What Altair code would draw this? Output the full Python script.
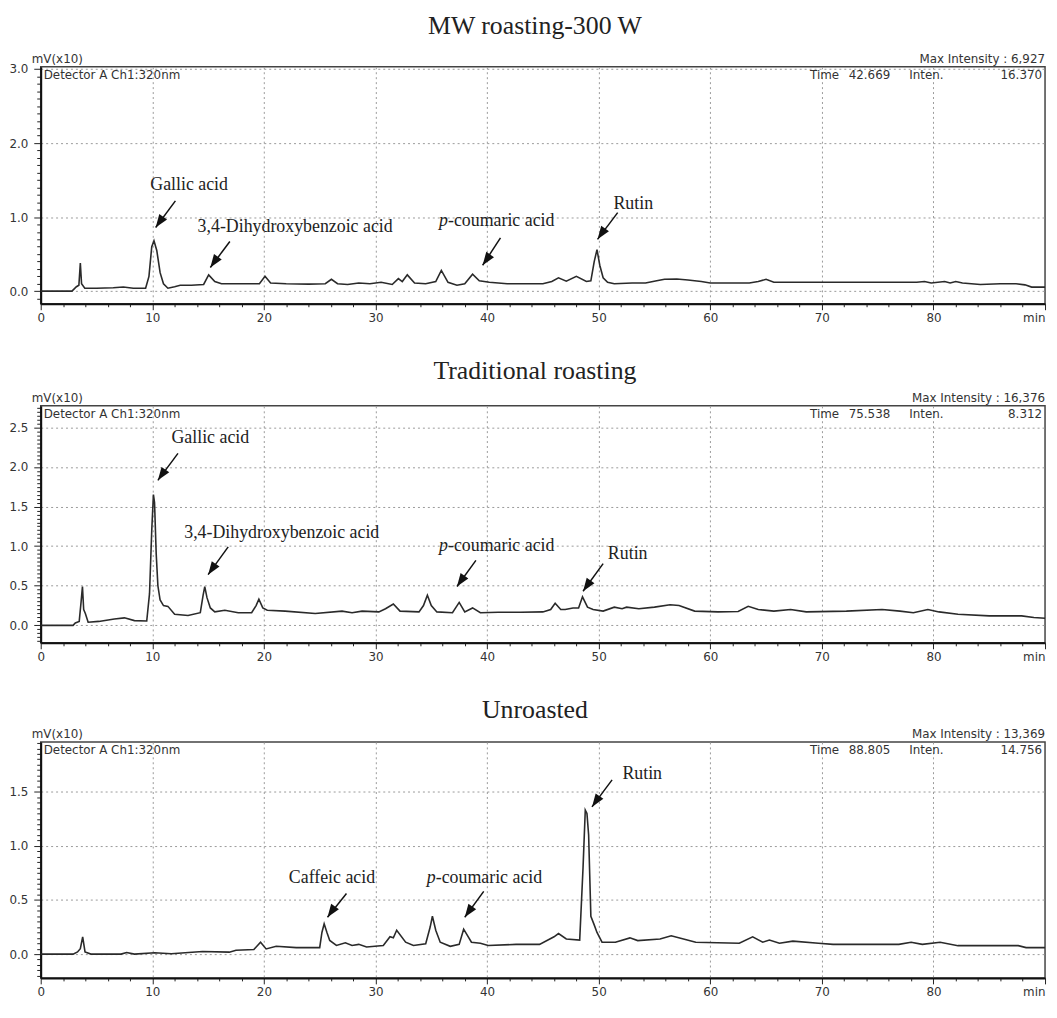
import altair as alt
import pandas as pd

# ---------------- data ----------------
titles = ["MW roasting-300 W", "Traditional roasting", "Unroasted"]
max_intensity = ["6,927", "16,376", "13,369"]
cursor_time = ["42.669", "75.538", "88.805"]
cursor_inten = ["16.370", "8.312", "14.756"]

# (retention time [min], signal [mV x10])
mw_trace = [
    (0.0, 0.0), (2.8, 0.0), (3.2, 0.06), (3.42, 0.08), (3.55, 0.38), (3.66, 0.1), (3.95, 0.04),
    (5.0, 0.04), (6.5, 0.045), (7.4, 0.055), (8.3, 0.04), (9.4, 0.04), (9.7, 0.2), (9.95, 0.6),
    (10.15, 0.68), (10.4, 0.55), (10.7, 0.25), (11.0, 0.1), (11.4, 0.04), (12.0, 0.06), (12.5, 0.08),
    (13.5, 0.08), (14.6, 0.09), (15.05, 0.22), (15.6, 0.13), (16.2, 0.1), (17.5, 0.1), (19.6, 0.1),
    (20.1, 0.2), (20.6, 0.11), (22.0, 0.1), (24.0, 0.095), (25.5, 0.1), (26.05, 0.16), (26.6, 0.1),
    (27.5, 0.09), (28.5, 0.11), (29.5, 0.1), (30.5, 0.12), (31.5, 0.09), (32.05, 0.17), (32.4, 0.13),
    (32.85, 0.22), (33.5, 0.11), (34.5, 0.1), (35.4, 0.13), (35.9, 0.28), (36.5, 0.12), (37.3, 0.08),
    (38.0, 0.1), (38.7, 0.23), (39.3, 0.14), (40.2, 0.12), (41.8, 0.1), (43.5, 0.1), (45.0, 0.1),
    (45.8, 0.13), (46.4, 0.18), (47.1, 0.135), (48.0, 0.2), (48.9, 0.13), (49.3, 0.14), (49.6, 0.4),
    (49.85, 0.56), (50.1, 0.35), (50.4, 0.18), (50.8, 0.12), (51.4, 0.1), (53.0, 0.11), (54.2, 0.11),
    (55.2, 0.14), (55.9, 0.16), (57.0, 0.165), (58.0, 0.15), (59.2, 0.13), (60.0, 0.11), (62.0, 0.11),
    (63.5, 0.11), (64.3, 0.13), (65.0, 0.16), (65.7, 0.12), (68.0, 0.12), (72.0, 0.12), (76.0, 0.12),
    (78.5, 0.12), (79.2, 0.13), (79.8, 0.11), (81.0, 0.13), (81.5, 0.11), (82.0, 0.13), (82.6, 0.11),
    (84.2, 0.09), (86.0, 0.1), (87.4, 0.1), (88.2, 0.085), (88.8, 0.055), (90.0, 0.055),
]

trad_trace = [
    (0.0, 0.0), (2.9, 0.0), (3.1, 0.03), (3.45, 0.05), (3.62, 0.3), (3.74, 0.49), (3.85, 0.2),
    (4.0, 0.15), (4.25, 0.04), (5.2, 0.05), (6.6, 0.08), (7.5, 0.095), (8.4, 0.06), (9.5, 0.055),
    (9.75, 0.4), (9.95, 1.2), (10.1, 1.65), (10.2, 1.55), (10.35, 0.9), (10.5, 0.5), (10.7, 0.32),
    (11.0, 0.25), (11.4, 0.24), (12.0, 0.14), (13.2, 0.125), (14.3, 0.16), (14.55, 0.38), (14.7, 0.49),
    (14.9, 0.35), (15.2, 0.22), (15.6, 0.17), (16.5, 0.19), (17.7, 0.16), (18.9, 0.16), (19.3, 0.25),
    (19.55, 0.33), (19.9, 0.22), (20.3, 0.19), (21.9, 0.18), (24.6, 0.15), (27.0, 0.18), (27.9, 0.16),
    (28.8, 0.18), (30.3, 0.17), (30.9, 0.21), (31.6, 0.27), (32.2, 0.18), (33.9, 0.17), (34.3, 0.25),
    (34.65, 0.38), (35.0, 0.25), (35.5, 0.17), (36.9, 0.16), (37.5, 0.29), (38.0, 0.17), (38.7, 0.22),
    (39.4, 0.16), (41.0, 0.165), (43.0, 0.165), (45.0, 0.17), (45.7, 0.2), (46.1, 0.28), (46.6, 0.2),
    (47.0, 0.2), (47.7, 0.22), (48.2, 0.22), (48.55, 0.36), (49.0, 0.23), (49.5, 0.2), (50.4, 0.18),
    (51.4, 0.23), (52.1, 0.21), (52.5, 0.23), (53.6, 0.21), (55.0, 0.23), (56.4, 0.26), (57.2, 0.25),
    (58.6, 0.18), (60.7, 0.17), (62.5, 0.175), (63.4, 0.24), (64.3, 0.2), (65.7, 0.18), (67.2, 0.2),
    (68.6, 0.17), (72.2, 0.18), (75.4, 0.2), (77.0, 0.18), (78.2, 0.16), (79.5, 0.2), (80.5, 0.17),
    (82.2, 0.14), (85.0, 0.12), (87.9, 0.12), (89.0, 0.1), (90.0, 0.09),
]

unroasted_trace = [
    (0.0, 0.0), (2.9, 0.0), (3.3, 0.02), (3.55, 0.05), (3.76, 0.16), (3.97, 0.02), (4.5, 0.0),
    (7.2, 0.0), (7.7, 0.015), (8.4, 0.0), (10.2, 0.012), (11.7, 0.003), (14.5, 0.024), (16.9, 0.018),
    (17.5, 0.036), (19.1, 0.042), (19.7, 0.11), (20.2, 0.048), (21.1, 0.072), (22.9, 0.06), (25.0, 0.06),
    (25.2, 0.2), (25.4, 0.28), (25.65, 0.2), (25.9, 0.126), (26.5, 0.08), (27.3, 0.105), (27.9, 0.08),
    (28.5, 0.09), (29.2, 0.066), (30.7, 0.08), (31.3, 0.16), (31.6, 0.15), (31.9, 0.22), (32.7, 0.11),
    (33.4, 0.08), (34.5, 0.096), (34.9, 0.25), (35.1, 0.35), (35.4, 0.22), (35.8, 0.11), (36.7, 0.072),
    (37.5, 0.09), (37.9, 0.23), (38.6, 0.11), (39.4, 0.1), (40.1, 0.08), (42.6, 0.09), (44.7, 0.09),
    (46.0, 0.16), (46.4, 0.19), (47.1, 0.14), (48.3, 0.13), (48.6, 0.8), (48.8, 1.33), (48.95, 1.3),
    (49.1, 1.1), (49.3, 0.35), (49.6, 0.27), (49.85, 0.2), (50.3, 0.11), (51.5, 0.11), (52.8, 0.15),
    (53.5, 0.125), (55.5, 0.14), (56.5, 0.17), (57.6, 0.14), (58.7, 0.11), (62.6, 0.1), (63.8, 0.16),
    (64.7, 0.11), (65.3, 0.13), (66.2, 0.1), (67.4, 0.12), (69.7, 0.1), (71.0, 0.09), (76.9, 0.09),
    (78.0, 0.11), (79.0, 0.09), (80.6, 0.11), (82.2, 0.078), (87.6, 0.078), (88.3, 0.06), (90.0, 0.06),
]

# peak labels: (text, time, signal) ; arrows: (tail_t, tail_v, head_t, head_v)
mw_labels = [("Gallic acid", 13.3, 1.43), ("3,4-Dihydroxybenzoic acid", 22.8, 0.86), ("Rutin", 53.1, 1.18)]
mw_pcoum = (35.7, 0.95)
mw_arrows = [(12.07, 1.22, 10.3, 0.86), (16.95, 0.67, 15.2, 0.32), (41.2, 0.72, 39.6, 0.35), (51.7, 1.06, 49.9, 0.70)]

trad_labels = [("Gallic acid", 15.2, 2.36), ("3,4-Dihydroxybenzoic acid", 21.6, 1.16), ("Rutin", 52.6, 0.905)]
trad_pcoum = (35.7, 1.0)
trad_arrows = [(12.3, 2.17, 10.5, 1.83), (16.8, 0.99, 15.0, 0.64), (39.0, 0.82, 37.3, 0.49), (50.4, 0.78, 48.6, 0.43)]

unr_labels = [("Caffeic acid", 26.1, 0.70), ("Rutin", 53.9, 1.66)]
unr_pcoum = (34.6, 0.70)
unr_arrows = [(27.4, 0.56, 25.7, 0.34), (39.7, 0.58, 38.0, 0.34), (51.2, 1.61, 49.4, 1.36)]

y_domains = [[-0.17, 3.03], [-0.22, 2.77], [-0.22, 1.96]]
y_major_step = [1.0, 0.5, 0.5]
y_minor_step = [0.1, 0.05, 0.05]

x_tick_values = list(range(0, 91, 2))

# ---------------- layout / style ----------------
W = 1013
HEIGHTS = [239, 239, 238]
TITLE_OFFSETS = [14, 8, 5]
SANS = "DejaVu Sans"
SERIF = "Liberation Serif"
INK = "#2a2a2a"
ARROW_PATH = "M0,0L0.36,1L-0.36,1Z"


def header(label, x, y, align):
    return alt.Chart(pd.DataFrame({"label": [label]})).mark_text(
        font=SANS, fontSize=12, color="#333", align=align, baseline="alphabetic"
    ).encode(text="label:N", x=alt.value(x), y=alt.value(y))


def make_panel(i, trace, labels, pcoum, arrows):
    lo, hi = y_domains[i]
    step = y_minor_step[i]
    n0 = int(round(lo / step + 0.4999))
    n1 = int(hi / step + 1e-9)
    minor_vals = [round(k * step, 2) for k in range(n0, n1 + 1)]
    mj = y_major_step[i]
    is_major = f"abs(datum.value / {mj} - round(datum.value / {mj})) < 1e-6"

    yaxis = alt.Axis(
        values=minor_vals,
        labelExpr=f"{is_major} ? format(datum.value, '.1f') : ''",
        tickSize={"condition": {"test": is_major, "value": 7}, "value": 4},
        gridOpacity={"condition": {"test": is_major, "value": 1}, "value": 0},
        labelOverlap=False, labelPadding=6, title=None,
    )
    x_major = "datum.value % 10 == 0"
    xaxis = alt.Axis(
        values=x_tick_values,
        labelExpr="datum.value == 90 ? 'min' : (datum.value % 10 == 0 ? datum.label : '')",
        labelAlign={"condition": {"test": "datum.value == 90", "value": "right"}, "value": "center"},
        tickSize={"condition": {"test": x_major, "value": 6}, "value": 3},
        gridOpacity={"condition": {"test": x_major + " && datum.value > 0 && datum.value < 90", "value": 1}, "value": 0},
        labelOverlap=False, labelPadding=3, title=None,
    )
    xs = alt.Scale(domain=[0, 90], nice=False, zero=False)
    ys = alt.Scale(domain=y_domains[i], nice=False, zero=False)

    def X(f):
        return alt.X(f, scale=xs, axis=xaxis)

    def Y(f):
        return alt.Y(f, scale=ys, axis=yaxis)

    df = pd.DataFrame(trace, columns=["time", "signal"])
    line = alt.Chart(df).mark_line(color=INK, strokeWidth=1.6).encode(x=X("time:Q"), y=Y("signal:Q"))

    ldf = pd.DataFrame(labels, columns=["label", "lt", "lv"])
    text = alt.Chart(ldf).mark_text(font=SERIF, fontSize=18, color="#222", align="center", baseline="middle").encode(
        x=X("lt:Q"), y=Y("lv:Q"), text="label:N"
    )
    pdf = pd.DataFrame({"pt": [pcoum[0]], "pv": [pcoum[1]], "a": ["p"], "b": ["-coumaric acid"]})
    p_it = alt.Chart(pdf).mark_text(font=SERIF, fontSize=18, fontStyle="italic", color="#222", align="left", baseline="middle").encode(
        x=X("pt:Q"), y=Y("pv:Q"), text="a:N"
    )
    p_rest = alt.Chart(pdf).mark_text(font=SERIF, fontSize=18, color="#222", align="left", baseline="middle", dx=9).encode(
        x=X("pt:Q"), y=Y("pv:Q"), text="b:N"
    )

    adf = pd.DataFrame(arrows, columns=["t0", "v0", "t1", "v1"])
    shaft = alt.Chart(adf).mark_rule(color="#111", strokeWidth=1.5).encode(
        x=X("t0:Q"), y=Y("v0:Q"), x2="t1:Q", y2="v1:Q",
    )
    head = alt.Chart(adf).mark_point(shape=ARROW_PATH, filled=True, color="#111", opacity=1, size=700, angle=215).encode(
        x=X("t1:Q"), y=Y("v1:Q")
    )

    h = HEIGHTS[i]
    headers = [
        header("mV(x10)", -9, -4, "left"),
        header(f"Max Intensity : {max_intensity[i]}", W, -4, "right"),
        header("Detector A Ch1:320nm", 3, 12, "left"),
        header("Time", W - 237, 12, "left"),
        header(cursor_time[i], W - 198, 12, "left"),
        header("Inten.", W - 137, 12, "left"),
        header(cursor_inten[i], W - 3, 12, "right"),
    ]

    return alt.layer(line, shaft, head, text, p_it, p_rest, *headers).properties(
        width=W, height=h,
        title=alt.TitleParams(titles[i], offset=TITLE_OFFSETS[i], dx=-8),
    )


p1 = make_panel(0, mw_trace, mw_labels, mw_pcoum, mw_arrows)
p2 = make_panel(1, trad_trace, trad_labels, trad_pcoum, trad_arrows)
p3 = make_panel(2, unroasted_trace, unr_labels, unr_pcoum, unr_arrows)

chart = (
    alt.vconcat(p1, p2, p3, spacing=33)
    .properties(padding={"left": 0, "right": 0, "top": 0, "bottom": 0})
    .configure_view(stroke="#444", strokeWidth=1.5)
    .configure_title(font=SERIF, fontSize=26, fontWeight="normal", color="#222", anchor="middle")
    .configure_axis(
        labelFont=SANS, labelFontSize=12, labelColor="#333",
        domainColor="#111", domainWidth=2, tickColor="#222", tickWidth=1,
        gridColor="#9a9a9a", gridDash=[2, 3], gridWidth=1,
    )
)

chart.save("out.html", embed_options={"renderer": "svg", "actions": False})
